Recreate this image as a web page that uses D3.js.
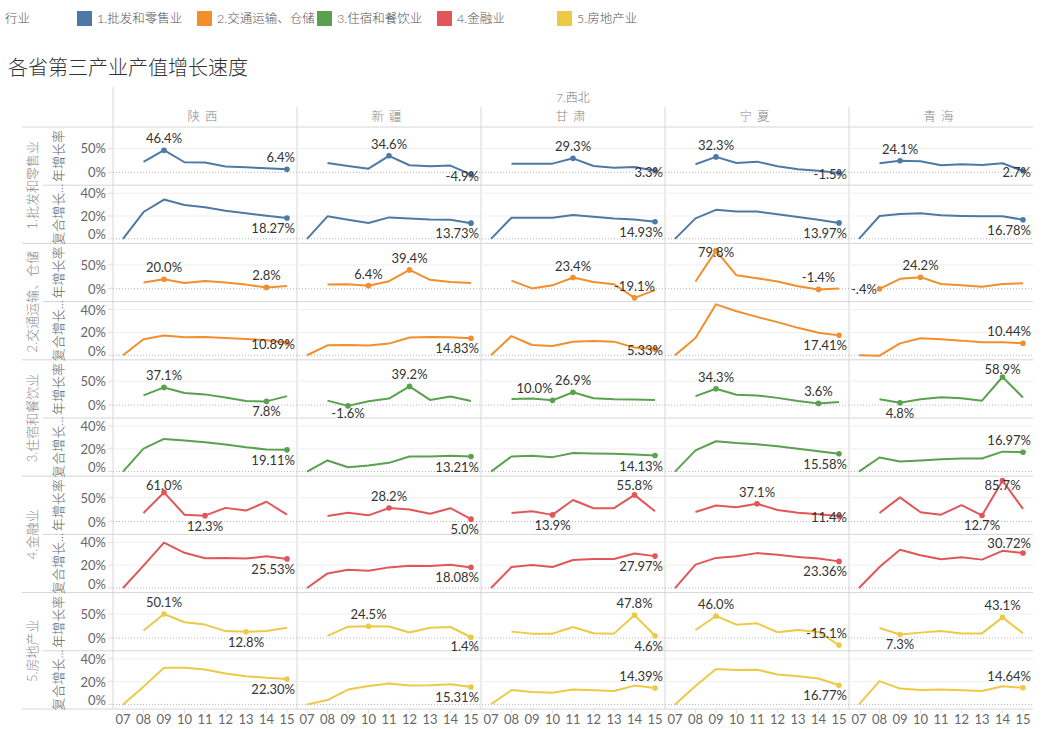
<!DOCTYPE html>
<html><head><meta charset="utf-8">
<script src="https://cdn.jsdelivr.net/npm/d3@7"></script>
<style>
body{margin:0;background:#fff}
text{font-family:Lato,"Noto Sans CJK SC",sans-serif}
.cjk{font-weight:300}
</style>
</head><body>
<svg id="chart" width="1043" height="729"></svg>
<script>
// ---------- data ----------
const years = ["07","08","09","10","11","12","13","14","15"];
const provinces = ["陕西","新疆","甘肃","宁夏","青海"];
const region = "7.西北";
const industries = ["1.批发和零售业","2.交通运输、仓储","3.住宿和餐饮业","4.金融业","5.房地产业"];
const industryColors = ["#4e79a7","#f28e2b","#59a14f","#e15759","#edc948"];
const measures = ["年增长率","复合增长..."];
const yoyTicks = [0, 50];
const cagrTicks = [0, 20, 40];

// 年增长率 (08–15), one array per province
const yoyTrade     = [[21.8,46.4,21.1,20.4,12.0,10.6,8.5,6.4],[19.7,13.4,7.7,34.6,14.8,12.7,14.1,-4.9],[18.2,18.2,18.2,29.3,13.3,9.8,11.2,3.3],[16.8,32.3,19.6,22.4,12.6,6.3,3.5,-1.5],[18.9,24.1,23.0,14.7,16.8,15.4,18.9,2.7]];
const yoyTransport = [[12.9,20.0,12.1,16.4,12.9,8.6,2.8,5.7],[8.6,9.3,6.4,15.7,39.4,18.6,14.3,12.1],[17.1,0.7,7.1,23.4,14.3,9.3,-19.1,-2.9],[15.0,79.8,28.0,22.0,15.0,5.0,-1.4,0.5],[-0.4,20.7,24.2,10.0,7.1,4.3,10.0,11.4]];
const yoyHotel     = [[20.3,37.1,25.4,22.5,16.0,8.5,7.8,18.8],[9.4,-1.6,8.0,13.8,39.2,10.9,18.1,8.7],[13.0,13.8,10.0,26.9,14.5,12.3,11.6,10.5],[18.8,34.3,21.7,20.3,15.2,8.7,3.6,6.5],[12.3,4.8,12.3,16.7,14.5,9.4,58.9,16.0]];
const yoyFinance   = [[17.9,61.0,14.3,12.3,28.6,22.9,41.4,14.3],[11.4,18.6,12.9,28.2,25.0,16.4,27.9,5.0],[17.9,21.4,13.9,45.0,27.9,27.9,55.8,21.4],[20.0,33.6,30.0,37.1,24.3,18.6,15.0,11.4],[17.9,50.7,19.3,14.3,34.3,12.7,85.7,26.4]];
const yoyRealty    = [[15.7,50.1,32.9,27.9,14.3,12.8,14.3,21.4],[4.3,23.6,24.5,23.8,11.4,21.4,22.9,1.4],[13.2,9.0,9.0,23.0,9.7,9.0,47.8,4.6],[16.7,46.0,27.8,30.6,11.8,16.7,12.5,-15.1],[20.8,7.3,11.1,14.6,9.5,9.5,43.1,9.7]];

// 复合增长率 (07–15), one array per province
const cagrTrade     = [[0,23.5,34.4,29.7,27.6,24.7,22.4,20.3,18.27],[0,19.7,16.8,13.8,18.8,17.9,17.0,16.8,13.73],[0,18.5,18.5,18.5,20.9,19.4,17.9,17.0,14.93],[0,17.9,25.4,23.9,23.9,21.5,19.1,16.7,13.97],[0,20.0,21.8,22.4,20.6,20.0,19.7,19.7,16.78]];
const cagrTransport = [[0,14.0,17.2,15.7,16.0,15.2,14.3,13.1,10.89],[0,8.7,9.0,8.5,10.2,15.5,16.0,15.7,14.83],[0,16.8,9.0,8.1,11.9,12.5,11.9,6.7,5.33],[0,15.1,44.6,38.6,33.6,29.0,24.0,19.7,17.41],[0,-0.4,10.4,14.8,13.9,12.8,11.3,11.3,10.44]];
const cagrHotel     = [[0,20.1,28.7,27.2,25.7,23.7,21.3,19.5,19.11],[0,9.8,3.8,5.3,7.7,13.3,13.3,13.9,13.21],[0,13.3,13.9,12.7,16.3,16.0,15.7,15.1,14.13],[0,18.6,26.6,25.1,24.0,22.2,20.1,17.8,15.58],[0,12.4,8.9,9.8,10.9,11.5,11.5,17.5,16.97]];
const cagrFinance   = [[0,19.6,39.8,30.9,26.1,26.4,25.8,27.9,25.53],[0,12.8,16.0,15.1,18.1,19.6,19.3,20.5,18.08],[0,18.4,20.2,18.4,24.6,25.5,25.5,30.3,27.97],[0,20.5,26.4,27.9,30.6,29.1,27.3,25.8,23.36],[0,18.4,33.5,28.8,25.2,27.0,24.9,32.6,30.72]];
const cagrRealty    = [[0,15.6,32.2,32.2,30.7,27.1,24.8,23.3,22.30],[0,3.8,13.0,16.2,18.3,16.5,16.8,17.7,15.31],[0,12.6,10.9,10.3,13.0,12.4,11.8,16.5,14.39],[0,16.2,31.0,30.1,30.4,26.3,24.8,22.7,16.77],[0,20.4,13.9,12.7,13.0,12.4,11.8,15.9,14.64]];

const yoyData  = [yoyTrade, yoyTransport, yoyHotel, yoyFinance, yoyRealty];
const cagrData = [cagrTrade, cagrTransport, cagrHotel, cagrFinance, cagrRealty];

// label placement codes (a=above, b=below, c=on point, l=left, al=above-left)
const yoyLabelPlace = [
  [["a","a"],["a","c"],["a","c"],["a","c"],["a","c"]],
  [["a","a"],["a","a"],["a","a"],["a","a"],["a","l"]],
  [["a","b"],["a","b"],["a","al"],["a","a"],["a","b"]],
  [["a","b"],["a","b"],["a","b"],["a","c"],["a","b"]],
  [["a","b"],["a","b"],["a","b"],["a","a"],["a","b"]]
];
const cagrLabelPlace = [
  ["b","b","b","b","b"],
  ["c","b","c","b","a"],
  ["b","b","b","b","a"],
  ["b","b","b","b","a"],
  ["b","b","a","b","a"]
];

// ---------- layout ----------
const svg = d3.select("#chart");
const colEdges = [113,297,481,665,849,1033];
const rowTop = 127, rowH = 116.4, subH = rowH/2;
const bottomY = rowTop + rowH*industries.length;
const gridC = "#d6d6d6";

// legend
svg.append("text").attr("class","cjk").attr("x",5).attr("y",18).attr("dominant-baseline","central")
  .attr("font-size",12.5).attr("fill","#555").text("行业");
industries.forEach((d,i)=>{
  const x0 = 77 + i*120;
  svg.append("rect").attr("x",x0).attr("y",11).attr("width",15).attr("height",15).attr("fill",industryColors[i]);
  svg.append("text").attr("class","cjk").attr("x",x0+20).attr("y",18.5).attr("dominant-baseline","central")
    .attr("font-size",12.5).attr("fill","#555").text(d);
});

// title
svg.append("text").attr("class","cjk").attr("x",8).attr("y",67).attr("dominant-baseline","central")
  .attr("font-size",20).attr("fill","#333").text("各省第三产业产值增长速度");

// header
svg.append("text").attr("class","cjk").attr("x",(colEdges[0]+colEdges[5])/2).attr("y",97).attr("text-anchor","middle")
  .attr("dominant-baseline","central").attr("font-size",12).attr("fill","#777").text(region);
provinces.forEach((p,j)=>{
  svg.append("text").attr("class","cjk").attr("x",(colEdges[j]+colEdges[j+1])/2).attr("y",116).attr("text-anchor","middle")
    .attr("dominant-baseline","central").attr("font-size",12.5).attr("fill","#888")
    .attr("letter-spacing","5px").text(p);
});

// structural lines
svg.append("line").attr("x1",113).attr("x2",113).attr("y1",87).attr("y2",bottomY).attr("stroke",gridC);
colEdges.slice(1,5).forEach(x=>{
  svg.append("line").attr("x1",x).attr("x2",x).attr("y1",107).attr("y2",bottomY).attr("stroke",gridC);
});
for(let i=0;i<=industries.length;i++){
  const y = rowTop + i*rowH;
  svg.append("line").attr("x1",22).attr("x2",1033).attr("y1",y).attr("y2",y).attr("stroke",gridC);
  if(i<industries.length){
    svg.append("line").attr("x1",43).attr("x2",1033).attr("y1",y+subH).attr("y2",y+subH).attr("stroke",gridC);
  }
}

function fmtYoy(v){
  let s = v.toFixed(1);
  if(s.startsWith("-0.")) s = "-" + s.slice(2);
  return s + "%";
}
function fmtCagr(v){ return v.toFixed(2) + "%"; }

function placeLabel(px, py, txt, code, left, right, top, bottom){
  const t = svg.append("text").attr("font-size",13).attr("fill","#333")
    .attr("text-anchor","middle").attr("dominant-baseline","central").text(txt);
  const w = t.node().getComputedTextLength();
  let cx = px, cy = py;
  if(code==="a") cy = py-12;
  else if(code==="b") cy = py+10;
  else if(code==="c") cy = py+1;
  else if(code==="l"){ cx = px-4-w/2; cy = py; }
  else if(code==="al"){ cx = px-18; cy = py-12; }
  cx = Math.max(left+2+w/2, Math.min(right-2-w/2, cx));
  cy = Math.max(top+9, Math.min(bottom-5, cy));
  t.attr("x",cx).attr("y",cy);
}

industries.forEach((ind,i)=>{
  const top = rowTop + i*rowH;
  const yY = d3.scaleLinear().domain([-27,95]).range([top+subH, top]);
  const yC = d3.scaleLinear().domain([-4,47]).range([top+2*subH, top+subH]);
  const color = industryColors[i];

  // row header
  svg.append("text").attr("class","cjk").attr("transform",`translate(32,${top+rowH/2}) rotate(-90)`)
    .attr("text-anchor","middle").attr("dominant-baseline","central")
    .attr("font-size",13).attr("fill","#8f8a8e").text(ind);
  // measure headers
  [0,1].forEach(k=>{
    svg.append("text").attr("class","cjk").attr("transform",`translate(58,${top+subH*k+subH/2}) rotate(-90)`)
      .attr("text-anchor","middle").attr("dominant-baseline","central")
      .attr("font-size",13).attr("fill","#666").text(measures[k]);
  });

  // axis ticks + labels + gridlines
  const axisSets = [[yY,yoyTicks,top,top+subH],[yC,cagrTicks,top+subH,top+2*subH]];
  axisSets.forEach(([s,ticks,pt,pb])=>{
    ticks.forEach(t=>{
      const y = s(t);
      if(t===0){
        svg.append("line").attr("x1",113).attr("x2",1033).attr("y1",y).attr("y2",y)
          .attr("stroke","#b5b5b5").attr("stroke-dasharray","1,2");
      } else {
        svg.append("line").attr("x1",113).attr("x2",1033).attr("y1",y).attr("y2",y)
          .attr("stroke","#efefef");
      }
      svg.append("line").attr("x1",108).attr("x2",113).attr("y1",y).attr("y2",y).attr("stroke","#ddd");
      svg.append("text").attr("x",106).attr("y",Math.min(y, pb-9)).attr("text-anchor","end")
        .attr("dominant-baseline","central").attr("font-size",13).attr("fill","#666").text(t+"%");
    });
  });

  provinces.forEach((p,j)=>{
    const left = colEdges[j], right = colEdges[j+1];
    const x = d3.scalePoint().domain(years).range([left+10, right-10]);
    const yoy = yoyData[i][j].map((v,k)=>({yr:years[k+1], v}));
    const cagr = cagrData[i][j].map((v,k)=>({yr:years[k], v}));

    const lineY = d3.line().x(d=>x(d.yr)).y(d=>yY(d.v));
    const lineC = d3.line().x(d=>x(d.yr)).y(d=>yC(d.v));
    svg.append("path").datum(yoy).attr("d",lineY).attr("fill","none")
      .attr("stroke",color).attr("stroke-width",2).attr("stroke-linejoin","round");
    svg.append("path").datum(cagr).attr("d",lineC).attr("fill","none")
      .attr("stroke",color).attr("stroke-width",2).attr("stroke-linejoin","round");

    // yoy max/min
    const maxD = yoy.reduce((a,b)=>b.v>a.v?b:a);
    const minD = yoy.reduce((a,b)=>b.v<a.v?b:a);
    [[maxD,0],[minD,1]].forEach(([d,k])=>{
      svg.append("circle").attr("cx",x(d.yr)).attr("cy",yY(d.v)).attr("r",2.8).attr("fill",color);
      placeLabel(x(d.yr), yY(d.v), fmtYoy(d.v), yoyLabelPlace[i][j][k], left, right, top, top+subH);
    });
    // cagr last
    const last = cagr[cagr.length-1];
    svg.append("circle").attr("cx",x(last.yr)).attr("cy",yC(last.v)).attr("r",2.8).attr("fill",color);
    placeLabel(x(last.yr), yC(last.v), fmtCagr(last.v), cagrLabelPlace[i][j], left, right, top+subH, top+2*subH);
  });
});

// bottom year axis
provinces.forEach((p,j)=>{
  const x = d3.scalePoint().domain(years).range([colEdges[j]+10, colEdges[j+1]-10]);
  years.forEach(yr=>{
    svg.append("line").attr("x1",x(yr)).attr("x2",x(yr)).attr("y1",bottomY).attr("y2",bottomY+4).attr("stroke","#e2e2e2");
    svg.append("text").attr("x",x(yr)).attr("y",bottomY+10).attr("text-anchor","middle")
      .attr("dominant-baseline","central").attr("font-size",13).attr("fill","#666").text(yr);
  });
});
</script>
</body></html>
